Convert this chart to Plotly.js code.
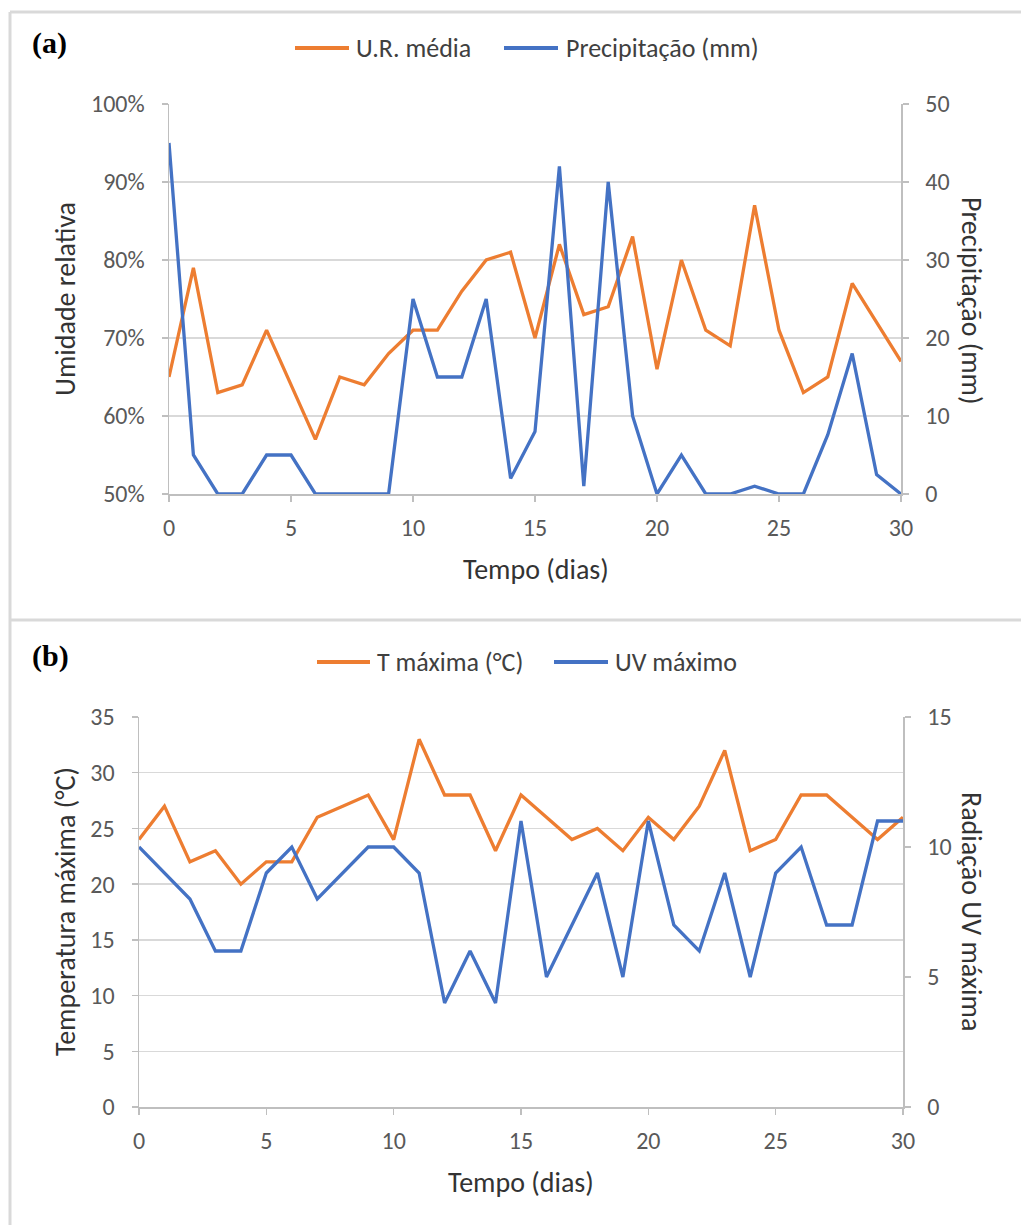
<!DOCTYPE html>
<html>
<head>
<meta charset="utf-8">
<script src="https://cdn.plot.ly/plotly-3.0.1.min.js"></script>
<style>html,body{margin:0;padding:0;background:#fff;}#chart{width:1021px;height:1225px;}</style>
</head>
<body>
<div id="chart"></div>
<script>
// ---- data ----
const days = [0,1,2,3,4,5,6,7,8,9,10,11,12,13,14,15,16,17,18,19,20,21,22,23,24,25,26,27,28,29,30];
// panel (a)
const urMedia = [65,79,63,64,71,64,57,65,64,68,71,71,76,80,81,70,82,73,74,83,66,80,71,69,87,71,63,65,77,72,67];
const precipitacao = [45,5,0,0,5,5,0,0,0,0,25,15,15,25,2,8,42,1,40,10,0,5,0,0,1,0,0,7.6,18,2.5,0];
// panel (b)
const tMaxima = [24,27,22,23,20,22,22,26,27,28,24,33,28,28,23,28,26,24,25,23,26,24,27,32,23,24,28,28,26,24,26];
const uvMaximo = [10,9,8,6,6,9,10,8,9,10,10,9,4,6,4,11,5,7,9,5,11,7,6,9,5,9,10,7,7,11,11];

const seriesNamesA = ['U.R. média','Precipitação (mm)'];
const seriesNamesB = ['T máxima (°C)','UV máximo'];
const xTitle = 'Tempo (dias)';

// ---- style ----
const W = 1021, H = 1225;
const ORANGE = '#ED7D31', BLUE = '#4472C4';
const FONT = 'Carlito, Calibri, Lato, sans-serif';
const tickFont = {family: FONT, size: 24, color: '#595959'};
const titleFont = {family: FONT, size: 28, color: '#333333'};
const legendFont = {family: FONT, size: 26, color: '#404040'};
const px = v => v / W, py = v => 1 - v / H;

const axisCommon = {
  showline: true, linecolor: '#bfbfbf', linewidth: 1.5,
  ticks: 'outside', ticklen: 6, tickcolor: '#bfbfbf', tickwidth: 1.5,
  tickfont: tickFont, zeroline: false, fixedrange: true
};

const traces = [
  {x: days, y: urMedia, name: seriesNamesA[0], type: 'scatter', mode: 'lines',
   line: {color: ORANGE, width: 3.3}, xaxis: 'x', yaxis: 'y', cliponaxis: false},
  {x: days, y: precipitacao, name: seriesNamesA[1], type: 'scatter', mode: 'lines',
   line: {color: BLUE, width: 3.3}, xaxis: 'x', yaxis: 'y2', cliponaxis: false},
  {x: days, y: tMaxima, name: seriesNamesB[0], type: 'scatter', mode: 'lines',
   line: {color: ORANGE, width: 3.3}, xaxis: 'x2', yaxis: 'y3', cliponaxis: false},
  {x: days, y: uvMaximo, name: seriesNamesB[1], type: 'scatter', mode: 'lines',
   line: {color: BLUE, width: 3.3}, xaxis: 'x2', yaxis: 'y4', cliponaxis: false}
];

// legend entries (sample line + label), one row per panel
const legendRows = [
  {y: 48, items: [{name: seriesNamesA[0], color: ORANGE, x0: 295, x1: 349, tx: 354},
                  {name: seriesNamesA[1], color: BLUE, x0: 504, x1: 558, tx: 564}]},
  {y: 662, items: [{name: seriesNamesB[0], color: ORANGE, x0: 317, x1: 370, tx: 375},
                   {name: seriesNamesB[1], color: BLUE, x0: 554, x1: 608, tx: 613}]}
];
const legendShapes = [], legendAnns = [];
legendRows.forEach(r => r.items.forEach(it => {
  legendShapes.push({type: 'line', xref: 'paper', yref: 'paper', x0: px(it.x0), x1: px(it.x1),
    y0: py(r.y), y1: py(r.y), line: {color: it.color, width: 4}});
  legendAnns.push({text: it.name, x: px(it.tx), y: py(r.y), xref: 'paper', yref: 'paper',
    xanchor: 'left', yanchor: 'middle', showarrow: false, font: legendFont});
}));

const layout = {
  width: W, height: H,
  margin: {l: 0, r: 0, t: 0, b: 0},
  paper_bgcolor: '#ffffff', plot_bgcolor: '#ffffff',
  showlegend: false,
  xaxis: Object.assign({}, axisCommon, {domain: [px(169), px(901)], range: [0, 30], dtick: 5, tick0: 0,
    showgrid: false, anchor: 'y', ticklabelstandoff: 6}),
  yaxis: Object.assign({}, axisCommon, {domain: [py(494), py(104)], range: [50, 100], dtick: 10,
    ticksuffix: '%', showgrid: true, gridcolor: '#d9d9d9', gridwidth: 1.5, anchor: 'x', ticklabelstandoff: 12}),
  yaxis2: Object.assign({}, axisCommon, {overlaying: 'y', side: 'right', range: [0, 50], dtick: 10,
    showgrid: false, anchor: 'x', ticklabelstandoff: 12}),
  xaxis2: Object.assign({}, axisCommon, {domain: [px(139), px(903)], range: [0, 30], dtick: 5, tick0: 0,
    showgrid: false, anchor: 'y3', ticklabelstandoff: 6}),
  yaxis3: Object.assign({}, axisCommon, {domain: [py(1107), py(717)], range: [0, 35], dtick: 5,
    showgrid: true, gridcolor: '#d9d9d9', gridwidth: 1.5, anchor: 'x2', ticklabelstandoff: 12}),
  yaxis4: Object.assign({}, axisCommon, {overlaying: 'y3', side: 'right', range: [0, 15], dtick: 5,
    showgrid: false, anchor: 'x2', ticklabelstandoff: 12}),
  annotations: [
    {text: '<b>(a)</b>', x: px(30), y: py(43), xref: 'paper', yref: 'paper', xanchor: 'left', yanchor: 'middle',
     showarrow: false, font: {family: 'Liberation Serif, Times New Roman, serif', size: 30, color: '#000'}},
    {text: '<b>(b)</b>', x: px(30), y: py(656), xref: 'paper', yref: 'paper', xanchor: 'left', yanchor: 'middle',
     showarrow: false, font: {family: 'Liberation Serif, Times New Roman, serif', size: 30, color: '#000'}},
    {text: 'Umidade relativa', x: px(65), y: py(299), xref: 'paper', yref: 'paper', textangle: -90,
     showarrow: false, font: titleFont, xanchor: 'center', yanchor: 'middle'},
    {text: 'Precipitação (mm)', x: px(972), y: py(300), xref: 'paper', yref: 'paper', textangle: 90,
     showarrow: false, font: titleFont, xanchor: 'center', yanchor: 'middle'},
    {text: xTitle, x: px(536), y: py(569), xref: 'paper', yref: 'paper',
     showarrow: false, font: titleFont, xanchor: 'center', yanchor: 'middle'},
    {text: 'Temperatura máxima (°C)', x: px(65), y: py(912), xref: 'paper', yref: 'paper', textangle: -90,
     showarrow: false, font: titleFont, xanchor: 'center', yanchor: 'middle'},
    {text: 'Radiação UV máxima', x: px(972), y: py(911), xref: 'paper', yref: 'paper', textangle: 90,
     showarrow: false, font: titleFont, xanchor: 'center', yanchor: 'middle'},
    {text: xTitle, x: px(521), y: py(1182), xref: 'paper', yref: 'paper',
     showarrow: false, font: titleFont, xanchor: 'center', yanchor: 'middle'}
  ].concat(legendAnns),
  shapes: [
    {type: 'line', xref: 'paper', yref: 'paper', x0: px(10), x1: 1, y0: py(12), y1: py(12), line: {color: '#d9d9d9', width: 3}},
    {type: 'line', xref: 'paper', yref: 'paper', x0: px(10), x1: px(10), y0: py(12), y1: 0, line: {color: '#d9d9d9', width: 3}},
    {type: 'line', xref: 'paper', yref: 'paper', x0: px(10), x1: 1, y0: py(620), y1: py(620), line: {color: '#d9d9d9', width: 3}}
  ].concat(legendShapes)
};

Plotly.newPlot('chart', traces, layout, {staticPlot: true, displayModeBar: false});
</script>
</body>
</html>
